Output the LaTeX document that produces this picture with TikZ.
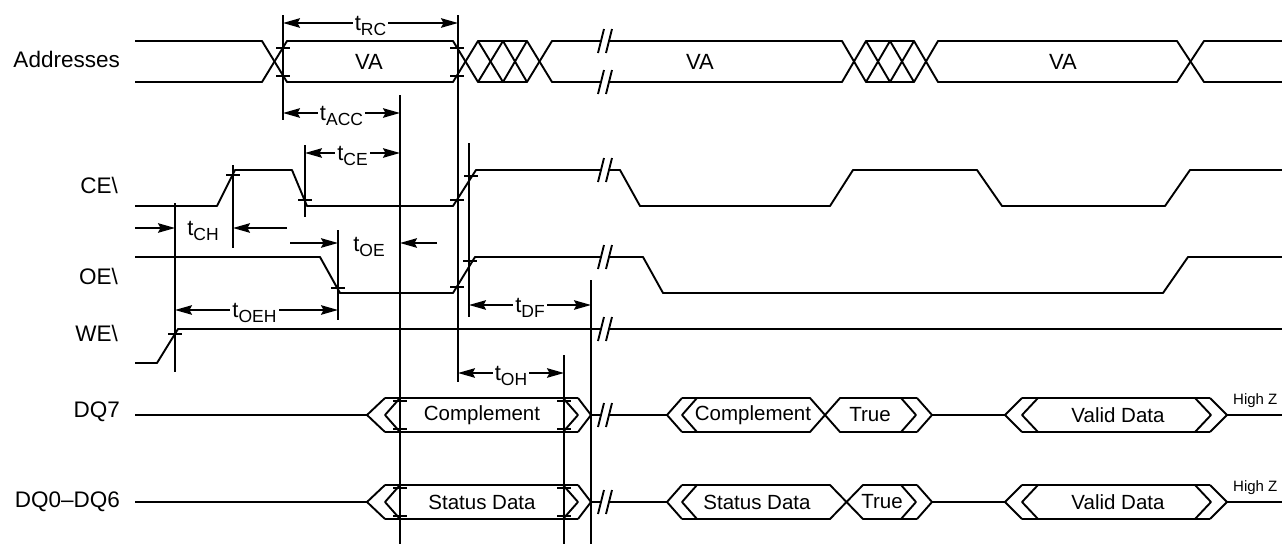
\documentclass[tikz,border=0pt]{standalone}
\usepackage{fontspec}
\setmainfont{Liberation Sans}
\usetikzlibrary{arrows.meta}
\tikzset{
  sig/.style={line width=1.9pt, line join=round},
  refl/.style={line width=1.8pt},
  hd/.tip={Stealth[length=17pt,width=9.5pt,inset=2.5pt]},
  dim/.style={line width=1.8pt, hd-hd},
  rarr/.style={line width=1.8pt, -hd},
  rowlbl/.style={anchor=east, font=\fontsize{22.5}{24}\selectfont, inner sep=0pt},
  tlbl/.style={fill=white, inner sep=2pt, font=\fontsize{22}{24}\selectfont},
  boxlbl/.style={inner sep=0pt, font=\fontsize{20.5}{22}\selectfont},
  hzlbl/.style={anchor=west, inner sep=0pt, font=\fontsize{15}{16}\selectfont},
}
\newcommand\tsub[1]{t\raisebox{-5pt}{\fontsize{17.5}{18}\selectfont #1}}
\newcommand\brkmark[2]{\draw[sig] ([shift={(-9,12)}]#1,#2) -- ([shift={(-3,-12)}]#1,#2) ([shift={(-1,12)}]#1,#2) -- ([shift={(5,-12)}]#1,#2);}
\newcommand\tickm[2]{\draw[sig] ([xshift=-7pt]#1,#2) -- ([xshift=7pt]#1,#2);}
% #1 y, #2 first label, #3 second label, #4 X left, #5 X right, #6 name prefix, #7 label x 2, #8 True x
\newcommand\dqrow[8]{%
\begin{scope}[shift={(0,#1)}]
  \draw[sig] (135,0) -- (367,0);
  \draw[sig] (385,-17) -- (367,0) -- (385,17);
  \draw[sig] (400,-17) -- (385,0) -- (400,17);
  \draw[sig] (385,-17) -- (578,-17) (385,17) -- (578,17);
  \draw[sig] (563,-17) -- (578,0) -- (563,17);
  \draw[sig] (578,-17) -- (591,0) -- (578,17);
  \draw[sig] (591,0) -- (601,0) (609,0) -- (667,0);
  \brkmark{607}{0}
  \tickm{400}{-14}\tickm{400}{14}\tickm{564}{-14}\tickm{564}{14}
  \node[boxlbl] (#6a) at (482,0) {#2};
  % second part
  \draw[sig] (682,-17) -- (667,0) -- (682,17);
  \draw[sig] (697,-17) -- (682,0) -- (697,17);
  \draw[sig] (682,-17) -- (#4,-17) -- (#5,17) -- (917,17);
  \draw[sig] (682,17) -- (#4,17) -- (#5,-17) -- (917,-17);
  \draw[sig] (901,-17) -- (916,0) -- (901,17);
  \draw[sig] (917,-17) -- (932,0) -- (917,17);
  \draw[sig] (932,0) -- (1005,0);
  \node[boxlbl] (#6b) at (#7,0) {#3};
  \node[boxlbl] (#6c) at (#8,0) {True};
  % valid data
  \draw[sig] (1022,-17) -- (1005,0) -- (1022,17);
  \draw[sig] (1038,-17) -- (1022,0) -- (1038,17);
  \draw[sig] (1022,-17) -- (1210,-17) (1022,17) -- (1210,17);
  \draw[sig] (1195,-17) -- (1211,0) -- (1195,17);
  \draw[sig] (1210,-17) -- (1227,0) -- (1210,17);
  \draw[sig] (1227,0) -- (1282,0);
  \node[boxlbl] (#6d) at (1118,0) {Valid Data};
  \node[hzlbl] (#6e) at (1233,-14) {High Z};
\end{scope}}

\begin{document}
\begin{tikzpicture}[x=1pt,y=-1pt]
\useasboundingbox (0,0) rectangle (1282,544);

% row labels
\node[rowlbl] (lAddr) at (120,59) {Addresses};
\node[rowlbl] (lCE) at (118,185) {CE\textbackslash};
\node[rowlbl] (lOE) at (118,276) {OE\textbackslash};
\node[rowlbl] (lWE) at (118,333) {WE\textbackslash};
\node[rowlbl] (lDQ7) at (120,412) {DQ7};
\node[rowlbl] (lDQ0) at (120,502) {DQ0--DQ6};

% Addresses
\draw[sig] (135,41) -- (262,41) -- (287,82) -- (453,82) -- (478,41) -- (503,82) -- (527,41) -- (552,82) -- (601,82);
\draw[sig] (135,82) -- (262,82) -- (287,41) -- (453,41) -- (478,82) -- (503,41) -- (527,82) -- (552,41) -- (601,41);
\draw[sig] (478,41) -- (527,41) (478,82) -- (527,82);
\brkmark{607}{41}\brkmark{607}{82}
\draw[sig] (609,82) -- (842,82) -- (866,41) -- (890,82) -- (914,41) -- (938,82) -- (1177,82) -- (1204,41) -- (1282,41);
\draw[sig] (609,41) -- (842,41) -- (866,82) -- (890,41) -- (914,82) -- (938,41) -- (1177,41) -- (1204,82) -- (1282,82);
\draw[sig] (866,41) -- (914,41) (866,82) -- (914,82);
\node[boxlbl,font=\fontsize{22}{24}\selectfont] (va1) at (369,62) {VA};
\node[boxlbl,font=\fontsize{22}{24}\selectfont] (va2) at (700,62) {VA};
\node[boxlbl,font=\fontsize{22}{24}\selectfont] (va3) at (1063,62) {VA};
\tickm{283}{48}\tickm{283}{76}\tickm{457}{48}\tickm{457}{76}

% CE
\draw[sig] (135,206) -- (217,206) -- (235,170) -- (292,170) -- (307,206) -- (453,206) -- (476,170) -- (601,170);
\brkmark{607}{170}
\draw[sig] (609,170) -- (620,170) -- (640,206) -- (830,206) -- (853,170) -- (977,170) -- (1002,206) -- (1165,206) -- (1190,170) -- (1282,170);
\tickm{233}{175}\tickm{305}{200}\tickm{457}{200}\tickm{471}{176}

% OE
\draw[sig] (135,257) -- (320,257) -- (340,293) -- (453,293) -- (475,257) -- (601,257);
\brkmark{607}{257}
\draw[sig] (609,257) -- (643,257) -- (663,293) -- (1163,293) -- (1188,257) -- (1282,257);
\tickm{338}{288}\tickm{457}{287}\tickm{470}{261}

% WE
\draw[sig] (135,363) -- (157,363) -- (178,329) -- (601,329);
\brkmark{607}{329}
\draw[sig] (609,329) -- (1282,329);
\tickm{175}{334}

% DQ rows
\dqrow{415}{Complement}{Complement}{810}{840}{dqs}{753}{870}
\dqrow{502}{Status Data}{Status Data}{830}{863}{dqz}{757}{882}

% reference verticals
\draw[refl] (283,15) -- (283,120);
\draw[refl] (458,15) -- (458,382);
\draw[refl] (400,95) -- (400,544);
\draw[refl] (305,145) -- (305,217);
\draw[refl] (233,165) -- (233,248);
\draw[refl] (175,203) -- (175,372);
\draw[refl] (338,230) -- (338,320);
\draw[refl] (469,143) -- (469,317);
\draw[refl] (564,355) -- (564,544);
\draw[refl] (591,280) -- (591,544);

% dimensions
\draw[dim] (283,23) -- (458,23) node[tlbl,midway,yshift=-3pt] (tRC) {\tsub{RC}};
\draw[dim] (283,113) -- (400,113) node[tlbl,midway,yshift=-3pt] (tACC) {\tsub{ACC}};
\draw[dim] (305,153) -- (400,153) node[tlbl,midway,yshift=-3pt] (tCE) {\tsub{CE}};
\draw[dim] (175,310) -- (338,310) node[tlbl,midway,xshift=-2pt,yshift=-3pt] (tOEH) {\tsub{OEH}};
\draw[dim] (469,305) -- (591,305) node[tlbl,midway,yshift=-3pt] (tDF) {\tsub{DF}};
\draw[dim] (458,373) -- (564,373) node[tlbl,midway,yshift=-3pt] (tOH) {\tsub{OH}};
\node[tlbl,fill=none] (tCH) at (203,231) {\tsub{CH}};
\draw[rarr] (135,228) -- (175,228);
\draw[rarr] (287,228) -- (233,228);
\node[tlbl,fill=none] (tOE) at (369,247) {\tsub{OE}};
\draw[rarr] (290,243) -- (338,243);
\draw[rarr] (437,243) -- (400,243);
\end{tikzpicture}
\end{document}
